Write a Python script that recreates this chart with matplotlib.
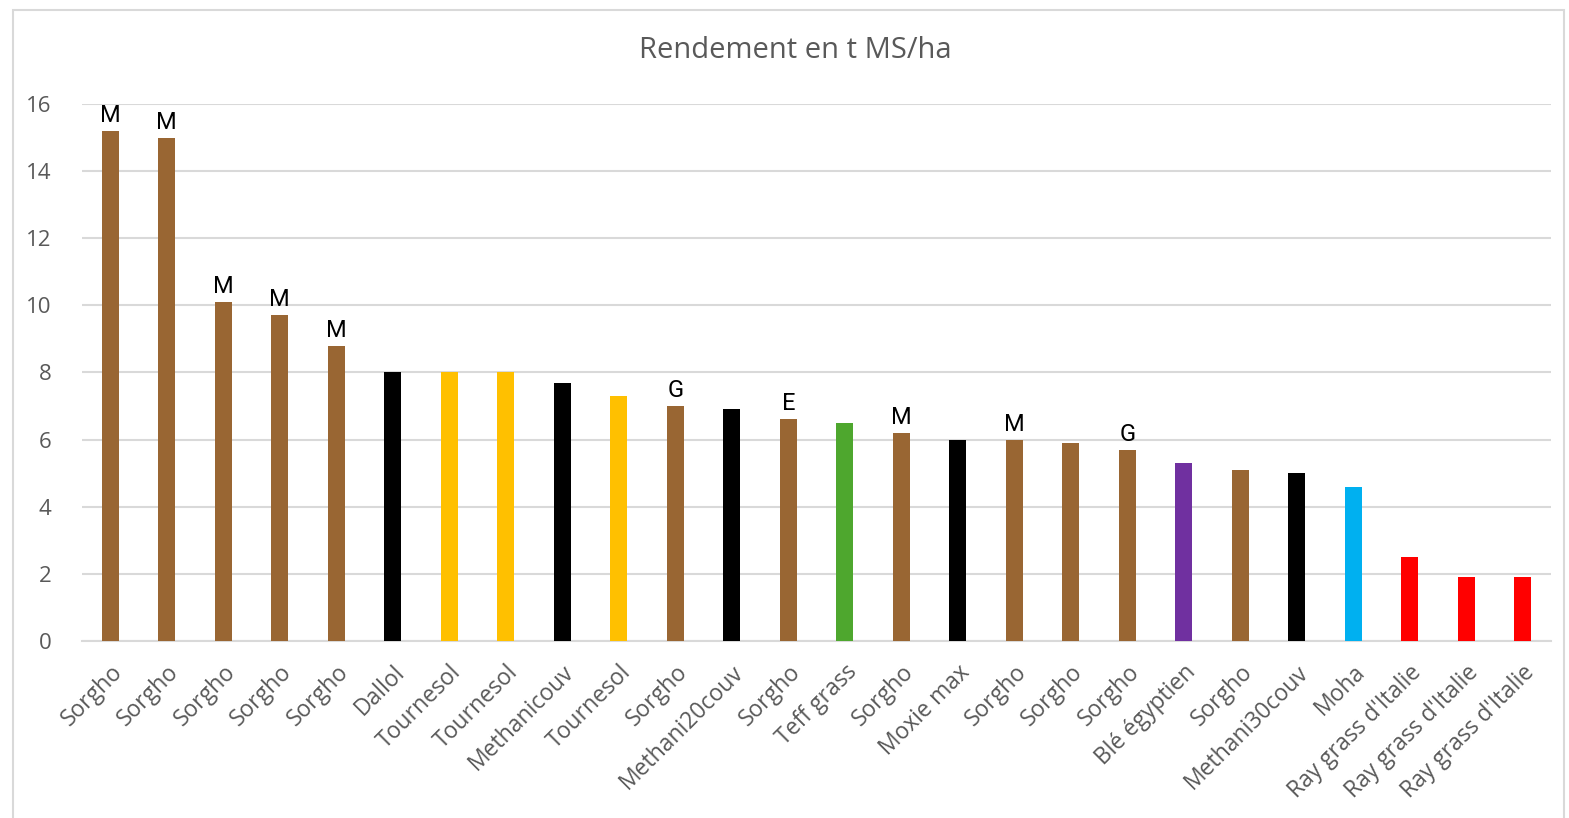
import matplotlib.pyplot as plt

plt.rcParams['font.family'] = ['Open Sans', 'DejaVu Sans']

# culture names along the x axis
cultures = ['Sorgho', 'Sorgho', 'Sorgho', 'Sorgho', 'Sorgho', 'Dallol',
            'Tournesol', 'Tournesol', 'Methanicouv', 'Tournesol', 'Sorgho',
            'Methani20couv', 'Sorgho', 'Teff grass', 'Sorgho', 'Moxie max',
            'Sorgho', 'Sorgho', 'Sorgho', 'Blé égyptien', 'Sorgho',
            'Methani30couv', 'Moha', "Ray grass d'Italie",
            "Ray grass d'Italie", "Ray grass d'Italie"]
# yield, t MS/ha
rendement = [15.2, 15.0, 10.1, 9.7, 8.8, 8.0, 8.0, 8.0, 7.7, 7.3, 7.0, 6.9,
             6.6, 6.5, 6.2, 6.0, 6.0, 5.9, 5.7, 5.3, 5.1, 5.0, 4.6, 2.5,
             1.9, 1.9]
# letter written above some bars
lettres = ['M', 'M', 'M', 'M', 'M', '', '', '', '', '', 'G', '', 'E', '',
           'M', '', 'M', '', 'G', '', '', '', '', '', '', '']

brun = '#996633'
jaune = '#ffc000'
noir = '#000000'
couleurs = [brun, brun, brun, brun, brun, noir, jaune, jaune, noir, jaune,
            brun, noir, brun, '#4ea72e', brun, noir, brun, brun, brun,
            '#7030a0', brun, noir, '#00b0f0', '#ff0000', '#ff0000', '#ff0000']

fig = plt.figure(figsize=(15.69, 8.18), dpi=100)
ax = fig.add_axes([0.0523, 0.2164, 0.9362, 0.6565])

x = range(len(cultures))
ax.bar(x, rendement, width=0.3, color=couleurs, zorder=3)

for i, (v, l) in enumerate(zip(rendement, lettres)):
    if l:
        ax.text(i, v + 0.12, l, ha='center', va='bottom', fontsize=17,
                color='black', family=['Roboto', 'DejaVu Sans'])

ax.set_xlim(-0.5, len(cultures) - 0.5)
ax.set_ylim(0, 16)
ax.set_yticks(range(0, 17, 2))
ax.yaxis.grid(True, color='#d9d9d9', linewidth=1.5, zorder=0)
ax.set_xticks(list(x))
ax.set_xticklabels(cultures, rotation=45, ha='right', rotation_mode='anchor',
                   fontsize=16.5, color='#595959')
ax.tick_params(axis='y', labelsize=16, labelcolor='#595959', length=0, pad=22)
ax.tick_params(axis='x', length=0, pad=14)
for s in ['top', 'right', 'left']:
    ax.spines[s].set_visible(False)
ax.spines['bottom'].set_color('#d9d9d9')
ax.spines['bottom'].set_linewidth(1.5)

fig.text(0.507, 0.938, 'Rendement en t MS/ha', ha='center', va='center',
         fontsize=21, color='#595959')

# light frame round the chart
fig.patches.append(plt.Rectangle((13 / 1569, -0.01), 1551 / 1569, 1 - 10 / 818 + 0.01,
                                 transform=fig.transFigure, fill=False,
                                 edgecolor='#d9d9d9', linewidth=1.5))

fig.savefig('out.png', dpi=100)
